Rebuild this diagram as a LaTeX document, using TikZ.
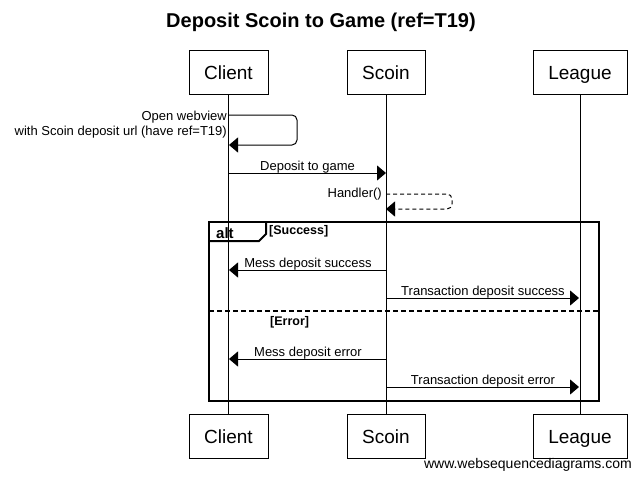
\documentclass[tikz,border=0pt]{standalone}
\usepackage{fontspec}
\setmainfont{Liberation Sans}
\usetikzlibrary{arrows.meta}
\tikzset{
  actor/.style={draw, line width=1pt, minimum height=44pt, inner sep=0pt, text height=17pt, text depth=3pt, font=\fontsize{19}{22}\selectfont},
  lifeline/.style={line width=1pt},
  msg/.style={line width=1pt, -{Triangle[length=9pt,width=15pt]}},
  rmsg/.style={msg, dashed, dash pattern=on 4pt off 3pt},
  lbl/.style={inner sep=0pt, anchor=base, font=\fontsize{13}{15}\selectfont},
  frame/.style={line width=2pt},
  guard/.style={inner sep=0pt, anchor=base west, font=\bfseries\fontsize{12.5}{14}\selectfont},
}
\begin{document}
\begin{tikzpicture}[x=1pt,y=-1pt]
\useasboundingbox[fill=white] (0,0) rectangle (641,482);
\node[font=\bfseries\fontsize{20}{24}\selectfont, anchor=base] (title) at (321,27) {Deposit Scoin to Game (ref=T19)};
% participants
\node[actor, minimum width=79pt] (ct) at (228.5,72) {Client};
\node[actor, minimum width=78pt] (st) at (386,72) {Scoin};
\node[actor, minimum width=94pt] (lt) at (580,72) {League};
\node[actor, minimum width=79pt] (cb) at (228.5,436) {Client};
\node[actor, minimum width=78pt] (sb) at (386,436) {Scoin};
\node[actor, minimum width=94pt] (lb) at (580,436) {League};
\draw[lifeline] (ct.south) -- (cb.north);
\draw[lifeline] (st.south) -- (sb.north);
\draw[lifeline] (lt.south) -- (lb.north);
% coordinates
\coordinate (c1) at (229,115); \coordinate (c1b) at (229,145);
\coordinate (c2) at (229,173); \coordinate (s2) at (386,173);
\coordinate (s3) at (386,194); \coordinate (s3b) at (386,209);
\coordinate (c4) at (229,270); \coordinate (s4) at (386,270);
\coordinate (s5) at (386,298); \coordinate (l5) at (579,298);
\coordinate (c6) at (229,359); \coordinate (s6) at (386,359);
\coordinate (s7) at (386,387); \coordinate (l7) at (579,387);
% self message client
\draw[msg, rounded corners=5pt] (c1) -- (297,115) -- (297,145) -- (c1b);
\node[inner sep=0pt, anchor=base east, align=right, font=\fontsize{13}{15}\selectfont] (t1) at (227,135) {Open webview\\with Scoin deposit url (have ref=T19)};
% deposit
\draw[msg] (c2) -- (s2);
\node[lbl] (t2) at (307.5,170) {Deposit to game};
% handler
\draw[rmsg, rounded corners=5pt] (s3) -- (452,194) -- (452,209) -- (s3b);
\node[inner sep=0pt, anchor=base east, font=\fontsize{13}{15}\selectfont] (t3) at (382,197) {Handler()};
% alt frame
\draw[frame] (209,222) rectangle (599,401);
\draw[frame] (209,241) -- (259,241) -- (266,234) -- (266,222);
\node[inner sep=0pt, anchor=base west, font=\bfseries\fontsize{15}{18}\selectfont] (alt) at (216,238.5) {alt};
\node[guard] (g1) at (269,234) {[Success]};
\draw[frame, dashed, dash pattern=on 5pt off 3pt, line width=2pt] (209,311) -- (599,311);
\node[guard] (g2) at (270,325) {[Error]};
% messages
\draw[msg] (s4) -- (c4);
\node[lbl] (t4) at (308,267) {Mess deposit success};
\draw[msg] (s5) -- (l5);
\node[lbl] (t5) at (483,295) {Transaction deposit success};
\draw[msg] (s6) -- (c6);
\node[lbl] (t6) at (308,356) {Mess deposit error};
\draw[msg] (s7) -- (l7);
\node[lbl] (t7) at (483,384) {Transaction deposit error};
% watermark
\node[inner sep=0pt, anchor=base east, font=\fontsize{14}{16}\selectfont] (wm) at (632,468) {www.websequencediagrams.com};
\end{tikzpicture}
\end{document}
